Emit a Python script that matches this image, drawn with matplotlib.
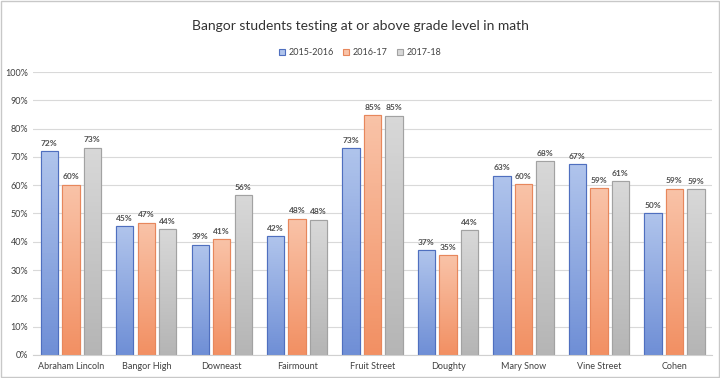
import numpy as np
import matplotlib.pyplot as plt
from matplotlib.colors import LinearSegmentedColormap
from matplotlib.ticker import PercentFormatter

plt.rcParams['font.family'] = ['Lato', 'DejaVu Sans']

schools = ['Abraham Lincoln', 'Bangor High', 'Downeast', 'Fairmount', 'Fruit Street',
           'Doughty', 'Mary Snow', 'Vine Street', 'Cohen']
years = ['2015-2016', '2016-17', '2017-18']
y2015 = [72.0, 45.4, 39.0, 42.0, 73.2, 37.0, 63.4, 67.4, 50.2]
y2016 = [60.2, 46.8, 41.0, 48.2, 84.8, 35.2, 60.4, 59.0, 58.8]
y2017 = [73.3, 44.5, 56.4, 47.8, 84.6, 44.0, 68.5, 61.4, 58.6]

# (top colour, bottom colour, edge)
styles = [('#b0c4ec', '#6f8fd6', '#4f6fbf'),
          ('#f9c3a8', '#f29063', '#e7875c'),
          ('#d8d8d8', '#b5b5b5', '#a2a2a2')]

fig = plt.figure(figsize=(7.2, 3.78), dpi=100)
ax = fig.add_axes([0.046, 0.061, 0.943, 0.7485])

x = np.arange(len(schools))
step = 0.285
width = 0.23
grad = np.linspace(0, 1, 64).reshape(-1, 1)

for i, (vals, name) in enumerate(zip([y2015, y2016, y2017], years)):
    top, bot, edge = styles[i]
    cmap = LinearSegmentedColormap.from_list('g%d' % i, [bot, top])
    bars = ax.bar(x + (i - 1) * step, vals, width, color=top, edgecolor=edge,
                  linewidth=0.8, label=name, zorder=2)
    for b in bars:
        bx, by = b.get_x(), b.get_y()
        im = ax.imshow(grad, cmap=cmap, aspect='auto', origin='lower',
                       extent=[bx, bx + b.get_width(), by, by + b.get_height()],
                       zorder=2.1)
        im.set_clip_path(b)
        ax.add_patch(plt.Rectangle((bx, by), b.get_width(), b.get_height(),
                                   fill=False, edgecolor=edge, linewidth=0.8, zorder=2.2))
        ax.text(bx + b.get_width() / 2, b.get_height() + 1.5, '%d%%' % round(b.get_height()),
                ha='center', va='bottom', fontsize=6, fontweight='bold', color='#505050')

ax.set_xlim(-0.5, len(schools) - 0.5)
ax.set_ylim(0, 100)
ax.set_yticks(np.arange(0, 101, 10))
ax.yaxis.set_major_formatter(PercentFormatter(decimals=0))
ax.set_xticks(x)
ax.set_xticklabels(schools)
ax.tick_params(axis='both', length=0, labelsize=6.5, colors='#404040')
ax.tick_params(axis='x', pad=5)
ax.grid(axis='y', color='#d9d9d9', linewidth=0.8, zorder=0)
ax.set_axisbelow(True)
for s in ['top', 'right', 'left']:
    ax.spines[s].set_visible(False)
ax.spines['bottom'].set_color('#d0d0d0')

fig.text(0.5, 0.93, 'Bangor students testing at or above grade level in math',
         ha='center', va='center', fontsize=10, color='#333333')
fig.legend(loc='center', bbox_to_anchor=(0.5, 0.86), ncol=3, frameon=False,
           fontsize=6.5, handlelength=0.7, handleheight=0.7, columnspacing=1.0,
           handletextpad=0.4, labelcolor='#404040')

fig.patches.append(plt.Rectangle((0.002, 0.003), 0.996, 0.994, transform=fig.transFigure,
                                 fill=False, edgecolor='#c8c8c8', linewidth=1))

fig.savefig('out.png', dpi=100)
